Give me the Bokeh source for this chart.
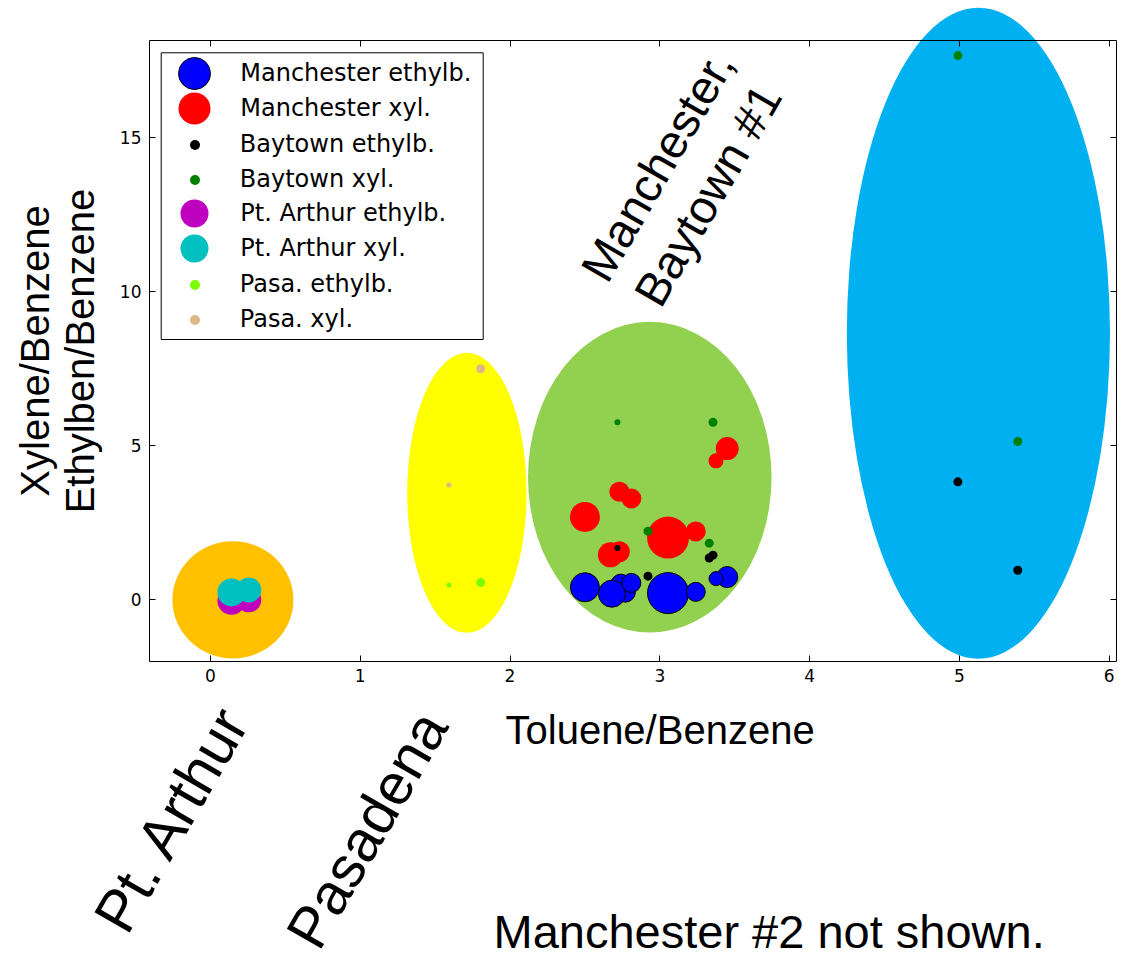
import numpy as np
from bokeh.plotting import figure
from bokeh.models import (Range1d, LinearAxis, FixedTicker, Legend, LegendItem,
                          Label, BoxAnnotation, ColumnDataSource)
from bokeh.embed import file_html
from bokeh.resources import INLINE

# ---------------- data ----------------
x_ticks = [0, 1, 2, 3, 4, 5, 6]
y_ticks = [0, 5, 10, 15]

# Manchester (bubble sizes differ per sample)
man_eb_x = [2.74, 2.77, 2.50, 2.68, 2.81, 3.055, 3.24, 3.45, 3.375]
man_eb_y = [0.51, 0.25, 0.41, 0.20, 0.55, 0.22, 0.26, 0.74, 0.69]
man_eb_s = [20, 20, 29, 27, 19, 41, 19, 21, 14]
man_xy_x = [2.50, 2.67, 2.73, 2.73, 2.81, 3.055, 3.24, 3.45, 3.375]
man_xy_y = [2.69, 1.46, 1.56, 3.51, 3.29, 2.02, 2.22, 4.91, 4.51]
man_xy_s = [30, 25, 21, 20, 20, 42, 20, 23, 15]

# Baytown
bay_x = [2.717, 2.921, 3.33, 3.355, 4.99, 5.39]
bay_eb_y = [1.68, 0.77, 1.36, 1.45, 3.83, 0.96]
bay_xy_y = [5.76, 2.23, 1.84, 5.76, 17.66, 5.14]
bay_s = [6, 9, 9, 9, 9, 9]

# Pt. Arthur
pa_x = [0.14, 0.256]
pa_eb_y = [-0.03, 0.0]
pa_xy_y = [0.24, 0.32]
pa_s = [28, 25]

# Pasadena
pas_x = [1.592, 1.804]
pas_eb_y = [0.48, 0.56]
pas_xy_y = [3.73, 7.50]
pas_s = [5, 9]

# group ellipses (Pt. Arthur, Pasadena, Manchester/Baytown #1, Baytown far)
ell_x = [0.15, 1.712, 2.933, 5.127]
ell_y = [0.0, 3.474, 3.98, 8.653]
ell_w = [0.808, 0.797, 1.626, 1.757]
ell_h = [3.80, 9.09, 10.09, 21.14]
ell_c = ["#FFC000", "#FFFF00", "#92D050", "#00B0F0"]

legend_labels = ["Manchester ethylb.", "Manchester xyl.", "Baytown ethylb.", "Baytown xyl.",
                 "Pt. Arthur ethylb.", "Pt. Arthur xyl.", "Pasa. ethylb.", "Pasa. xyl."]

# ---------------- layout constants (page pixels) ----------------
CW, CH = 1122, 958
FL, FR, FT, FB = 149, 1116, 40, 661      # the axes box
XR = (-0.407, 6.049)                     # data limits of the axes box
YR = (-2.0, 18.15)


def dx(px):
    return XR[0] + (px - FL) / (FR - FL) * (XR[1] - XR[0])


def dy(py):
    return YR[1] - (py - FT) / (FB - FT) * (YR[1] - YR[0])


# One frame covering the whole canvas; the axes are pinned at the box limits.
p = figure(width=CW, height=CH, output_backend="svg", toolbar_location=None,
           x_range=Range1d(dx(0), dx(CW)), y_range=Range1d(dy(CH), dy(0)),
           min_border_left=0, min_border_right=0, min_border_top=0, min_border_bottom=0)
p.grid.visible = False
p.outline_line_color = None
p.background_fill_color = "white"
p.border_fill_color = "white"

xa, ya = p.xaxis[0], p.yaxis[0]
xa.fixed_location = YR[0]
xa.bounds = XR
ya.fixed_location = XR[0]
ya.bounds = YR
for ax, ticks in ((xa, x_ticks), (ya, y_ticks)):
    ax.ticker = FixedTicker(ticks=ticks)
    ax.major_tick_in = 6
    ax.major_tick_out = 0
    ax.minor_tick_in = 0
    ax.minor_tick_out = 0
    ax.axis_line_color = "black"
    ax.major_tick_line_color = "black"
    ax.major_label_text_font = "DejaVu Sans"
    ax.major_label_text_font_size = "17px"
    ax.major_label_text_color = "black"
xa.major_label_standoff = 7
ya.major_label_standoff = 8

# mirrored tick marks on top and right (no labels)
for loc, ticks, fixed, bnds in (("above", x_ticks, YR[1], XR), ("right", y_ticks, XR[1], YR)):
    ax = LinearAxis(ticker=FixedTicker(ticks=[], minor_ticks=ticks),
                    fixed_location=fixed, bounds=bnds,
                    major_tick_in=0, major_tick_out=0,
                    minor_tick_in=6, minor_tick_out=0, minor_tick_line_color="black",
                    major_label_standoff=0, axis_line_color="black")
    p.add_layout(ax, loc)

src_ell = ColumnDataSource(dict(x=ell_x, y=ell_y, w=ell_w, h=ell_h, c=ell_c))
p.ellipse(x="x", y="y", width="w", height="h", fill_color="c", line_color=None, source=src_ell)

# points
r_me = p.scatter(man_eb_x, man_eb_y, size=man_eb_s, fill_color="#0000FF", line_color="black", line_width=1)
r_mx = p.scatter(man_xy_x, man_xy_y, size=man_xy_s, fill_color="#FF0000", line_color=None)
r_be = p.scatter(bay_x, bay_eb_y, size=bay_s, fill_color="black", line_color=None)
r_bx = p.scatter(bay_x, bay_xy_y, size=bay_s, fill_color="#008000", line_color=None)
r_pe = p.scatter(pa_x, pa_eb_y, size=pa_s, fill_color="#BF00BF", line_color=None)
r_px = p.scatter(pa_x, pa_xy_y, size=pa_s, fill_color="#00BFBF", line_color=None)
r_se = p.scatter(pas_x, pas_eb_y, size=pas_s, fill_color="#7CFC00", line_color=None)
r_sx = p.scatter(pas_x, pas_xy_y, size=pas_s, fill_color="#DEB887", line_color=None)

# legend frame
p.add_layout(BoxAnnotation(left=dx(160.7), right=dx(482.7), top=dy(52.3), bottom=dy(339),
                           fill_color="white", fill_alpha=1.0, line_color="black",
                           line_width=1, line_alpha=1.0))

renderers = [r_me, r_mx, r_be, r_bx, r_pe, r_px, r_se, r_sx]
legend_marker_px = [32, 32, 10, 10, 28, 28, 10, 10]
LEG_MX, LEG_TX, LEG_Y0, LEG_DY = 194.3, 240, 72.5, 35
for i, (lab, r, ms) in enumerate(zip(legend_labels, renderers, legend_marker_px)):
    g = int(round(ms / 0.4))
    yc = LEG_Y0 + i * LEG_DY
    H = max(g, 28)
    left = LEG_MX - g / 2
    leg = Legend(items=[LegendItem(label=lab, renderers=[r])],
                 location=(left, CH - (yc - g / 2 + H)),
                 padding=0, margin=0, spacing=0,
                 glyph_width=g, glyph_height=g,
                 label_standoff=int(round(LEG_TX - (left + g))),
                 label_text_font="DejaVu Sans", label_text_font_size="24px",
                 label_text_color="black",
                 border_line_color=None, background_fill_alpha=0.0)
    p.add_layout(leg)

# texts


def add_text(px, py, text, size, angle=0.0, align="center", baseline="middle", lh=1.2):
    p.add_layout(Label(x=dx(px), y=dy(py), text=text, angle=angle,
                       text_align=align, text_baseline=baseline, text_font="Liberation Sans",
                       text_font_size=size, text_line_height=lh, text_color="black"))


add_text(682, 180, "Manchester,\nBaytown #1", "47px", angle=np.radians(60), lh=1.1)
add_text(171.7, 818.3, "Pt. Arthur", "59px", angle=np.radians(60))
add_text(366, 829, "Pasadena", "58px", angle=np.radians(60))
add_text(505, 729.5, "Toluene/Benzene", "40px", align="left", baseline="alphabetic")
add_text(493, 931, "Manchester #2 not shown.", "47px", align="left", baseline="alphabetic")
add_text(34, 350.5, "Xylene/Benzene", "40px", angle=np.pi / 2, baseline="alphabetic")
add_text(79, 350.5, "Ethylben/Benzene", "40px", angle=np.pi / 2, baseline="alphabetic")

open("out.html", "w").write(file_html(p, INLINE))
